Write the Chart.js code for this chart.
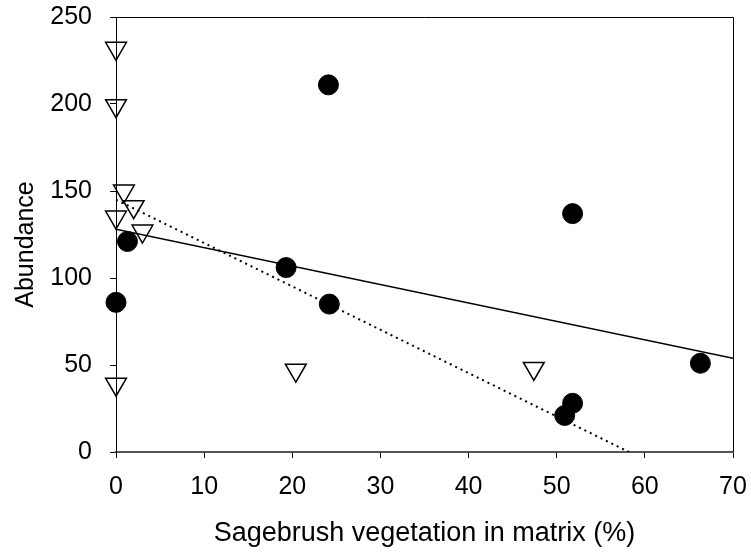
<!DOCTYPE html>
<html>
<head>
<meta charset="utf-8">
<script src="https://cdn.jsdelivr.net/npm/chart.js@4/dist/chart.umd.min.js"></script>
<style>
  html, body { margin: 0; padding: 0; background: #fff; }
  #wrap { width: 751px; height: 556px; }
</style>
</head>
<body>
<div id="wrap"><canvas id="c" width="751" height="556"></canvas></div>
<script>
// Sites with sagebrush cover in the matrix (%) and abundance
const circleX = [0, 1.3, 24.1, 19.3, 24.2, 51.8, 66.3, 51.8, 50.9];
const circleY = [86, 121, 211, 106, 85, 137, 51, 28, 21];
const triangleX = [0, 0, 0.9, 2.0, 0, 3.0, 0, 20.4, 47.4];
const triangleY = [232, 199, 150, 141, 135, 127, 39, 47, 48];

// Regression lines (end points)
const solidFitX = [0, 70];
const solidFitY = [128, 53.8];
const dottedFitX = [0, 58.2];
const dottedFitY = [145, 0];

// Axis ranges and labels
const xRange = [0, 70];
const xStep = 10;
const yRange = [0, 250];
const yStep = 50;
const xTitle = 'Sagebrush vegetation in matrix (%)';
const yTitle = 'Abundance';

const FONT = "'Liberation Sans', Arial, Helvetica, sans-serif";

const pts = (xs, ys) => xs.map((x, i) => ({ x: x, y: ys[i] }));

// Box around the plot area and the rotated y title
const framePlugin = {
  id: 'frame',
  beforeDatasetsDraw(chart) {
    const { ctx, chartArea: a } = chart;
    ctx.save();
    ctx.strokeStyle = '#000';
    ctx.lineWidth = 1;
    ctx.beginPath();
    ctx.moveTo(a.left, Math.round(a.top) + 0.5);
    ctx.lineTo(Math.round(a.right) + 0.5, Math.round(a.top) + 0.5);
    ctx.lineTo(Math.round(a.right) + 0.5, a.bottom);
    ctx.stroke();
    ctx.restore();
  },
  afterDraw(chart) {
    const { ctx, chartArea: a } = chart;
    ctx.save();
    ctx.fillStyle = '#000';
    ctx.font = '25px ' + FONT;
    ctx.textAlign = 'center';
    ctx.textBaseline = 'middle';
    ctx.translate(26, (a.top + a.bottom) / 2 + 10);
    ctx.rotate(-Math.PI / 2);
    ctx.fillText(yTitle, 0, 0);
    ctx.restore();
  }
};

new Chart(document.getElementById('c'), {
  type: 'scatter',
  data: {
    datasets: [
      {
        label: 'circles',
        data: pts(circleX, circleY),
        pointStyle: 'circle',
        pointRadius: 10,
        pointBackgroundColor: '#000',
        pointBorderColor: '#000',
        pointBorderWidth: 1,
        showLine: false,
        clip: false,
        order: 1
      },
      {
        label: 'triangles',
        data: pts(triangleX, triangleY),
        pointStyle: 'triangle',
        rotation: 180,
        pointRadius: 12,
        pointBackgroundColor: 'rgba(255,255,255,0)',
        pointBorderColor: '#000',
        pointBorderWidth: 1.5,
        showLine: false,
        clip: false,
        order: 2
      },
      {
        label: 'solid fit',
        data: pts(solidFitX, solidFitY),
        showLine: true,
        borderColor: '#000',
        borderWidth: 1.5,
        pointRadius: 0,
        fill: false,
        order: 3
      },
      {
        label: 'dotted fit',
        data: pts(dottedFitX, dottedFitY),
        showLine: true,
        borderColor: '#000',
        borderWidth: 2,
        borderDash: [2, 4],
        pointRadius: 0,
        fill: false,
        order: 4
      }
    ]
  },
  options: {
    responsive: false,
    animation: false,
    devicePixelRatio: 1,
    layout: { padding: { top: 17, right: 18, left: 0, bottom: 0 } },
    plugins: {
      legend: { display: false },
      tooltip: { enabled: false }
    },
    scales: {
      x: {
        type: 'linear',
        position: 'bottom',
        min: xRange[0],
        max: xRange[1],
        ticks: {
          stepSize: xStep,
          padding: 14,
          color: '#000',
          font: { family: FONT, size: 25 },
          maxRotation: 0
        },
        grid: {
          drawOnChartArea: false,
          drawTicks: true,
          tickLength: 6,
          color: '#000',
          lineWidth: 1
        },
        border: { display: true, color: '#555', width: 2 },
        title: {
          display: true,
          text: xTitle,
          color: '#000',
          font: { family: FONT, size: 27 },
          padding: { top: 0, bottom: 6 }
        },
        afterFit(scale) {
          scale.height = 104;
          scale.paddingLeft = 0;
          scale.paddingRight = 0;
        }
      },
      y: {
        type: 'linear',
        position: 'left',
        min: yRange[0],
        max: yRange[1],
        ticks: {
          stepSize: yStep,
          padding: 18,
          color: '#000',
          font: { family: FONT, size: 25 }
        },
        grid: {
          drawOnChartArea: false,
          drawTicks: true,
          tickLength: 6,
          color: '#000',
          lineWidth: 1
        },
        border: { display: true, color: '#000', width: 1 },
        afterFit(scale) {
          scale.width = 116;
          scale.paddingTop = 0;
          scale.paddingBottom = 0;
        }
      }
    }
  },
  plugins: [framePlugin]
});
</script>
</body>
</html>
